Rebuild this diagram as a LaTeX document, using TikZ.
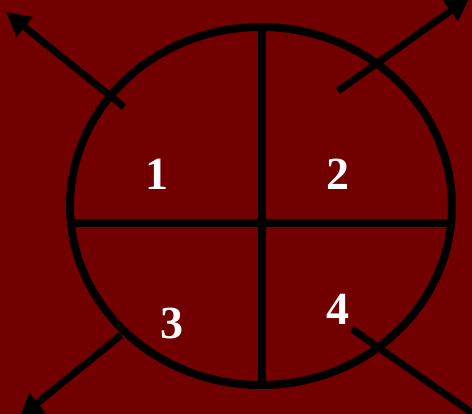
\documentclass[tikz,border=0pt]{standalone}
\usepackage{fontspec}
\setmainfont{Liberation Serif}
\usetikzlibrary{arrows.meta}
\definecolor{Fondo}{HTML}{730000}
\definecolor{Tinta}{HTML}{000000}

\begin{document}
\begin{tikzpicture}[
  x=1pt,y=-1pt,
  ring/.style={draw=Tinta,line width=8pt},
  arr/.style={-{Triangle[length=24pt,width=24pt]},draw=Tinta,line width=7pt},
  num/.style={text=white,font=\fontsize{46}{50}\selectfont\bfseries,inner sep=0pt}
]
  \fill[Fondo] (0,0) rectangle (472,414);
  \useasboundingbox (0,0) rectangle (472,414);
  \clip (0,0) rectangle (472,414);

  % circle split in four
  \draw[ring] (261,206) ellipse [x radius=191,y radius=179];
  \draw[ring] (262,27) -- (262,385);
  \draw[ring] (71,223) -- (451,223);

  \node[num] (q1) at (157,174) {1};
  \node[num] (q2) at (338,174) {2};
  \node[num] (q3) at (172,323) {3};
  \node[num] (q4) at (338,309) {4};

  % arrows out of the quarters
  \coordinate (a1) at (124,107);
  \coordinate (b1) at (6,12);
  \coordinate (a2) at (338,91);
  \coordinate (b2) at (470,-3);
  \coordinate (a3) at (121,335);
  \coordinate (b3) at (19,418);
  \coordinate (a4) at (352,329);
  \coordinate (b4) at (505,436);
  \draw[arr] (a1) -- (b1);
  \draw[arr] (a2) -- (b2);
  \draw[arr] (a3) -- (b3);
  \draw[arr] (a4) -- (b4);
\end{tikzpicture}
\end{document}
